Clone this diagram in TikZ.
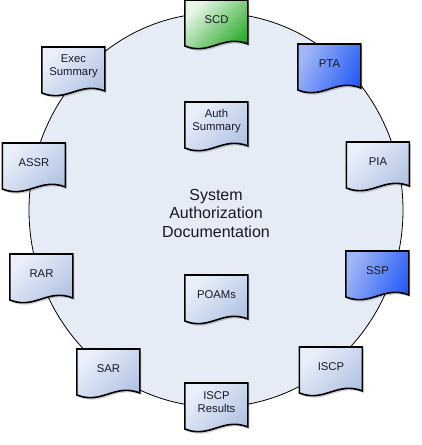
\documentclass[tikz,border=0pt]{standalone}
\usepackage{fontspec}
\setmainfont{Liberation Sans}
\usetikzlibrary{backgrounds}
\definecolor{ringfill}{RGB}{230,236,246}
\definecolor{inkdark}{RGB}{24,24,36}
\definecolor{grayA}{RGB}{234,240,250}
\definecolor{grayB}{RGB}{176,194,226}
\definecolor{greenA}{RGB}{232,246,232}
\definecolor{greenB}{RGB}{36,168,36}
\definecolor{blueA}{RGB}{160,182,246}
\definecolor{blueB}{RGB}{38,92,246}
\tikzstyle{doc}=[anchor=north, minimum width=63pt, minimum height=38pt, inner sep=0pt, align=center, text=inkdark, font=\fontsize{11.3}{13}\selectfont]
\tikzstyle{docgray}=[top color=grayA, bottom color=grayB, shading angle=45]
\tikzstyle{docgreen}=[top color=greenA, bottom color=greenB, shading angle=45]
\tikzstyle{docblue}=[top color=blueA, bottom color=blueB, shading angle=65]
\tikzstyle{docline}=[draw=black, line width=1.6pt]
\newcommand{\doc}{\node[doc]}
\newcommand{\docpath}{(0,0) -- (63,0) -- (63,-44) .. controls (38,-34) and (25,-56) .. (0,-46) -- cycle}

\begin{document}
\begin{tikzpicture}[x=1pt, y=1pt]
\useasboundingbox (0,0) rectangle (421,-445);
% documents round the ring
\doc (scd) at (216.5,0) {SCD};
\doc (pta) at (329.5,-44) {PTA};
\doc (exec) at (73.5,-47) {Exec\\Summary};
\doc (auth) at (216.5,-102) {Auth\\Summary};
\doc (pia) at (378,-142) {PIA};
\doc (assr) at (34,-143) {ASSR};
\doc (ssp) at (377.5,-251) {SSP};
\doc (rar) at (41.5,-254) {RAR};
\doc (poams) at (216.5,-275) {POAMs};
\doc (iscp) at (331,-347) {ISCP};
\doc (sar) at (108.5,-349) {SAR};
\doc (iscpres) at (216.5,-383) {ISCP\\Results};
\node[align=center, text=inkdark, font=\fontsize{16}{18.5}\selectfont] (title) at (216,-213) {System\\Authorization\\Documentation};
\begin{pgfonlayer}{background}
\draw[fill=ringfill, line width=0.8pt] (216,-210) ellipse [x radius=187, y radius=197];
\foreach \n/\s in {scd/docgreen, pta/docblue, exec/docgray, auth/docgray, pia/docgray, assr/docgray, ssp/docblue, rar/docgray, poams/docgray, iscp/docgray, sar/docgray, iscpres/docgray}{
	\begin{scope}[shift={(\n.north west)}]
	\fill[black, opacity=0.18, shift={(1.5,-2)}] \docpath;
	\path[\s] \docpath;
	\path[docline] \docpath;
	\end{scope}
	}
\end{pgfonlayer}
\end{tikzpicture}
\end{document}
